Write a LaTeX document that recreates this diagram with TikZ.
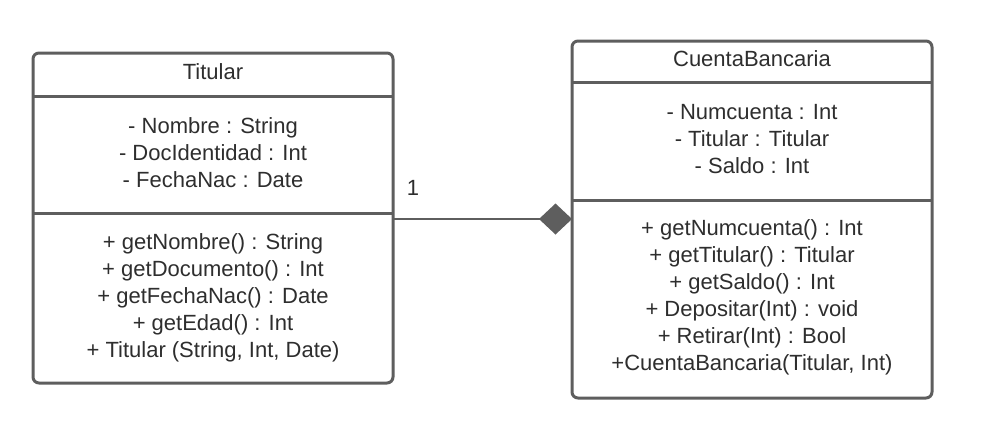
\documentclass[tikz,border=0pt]{standalone}
\usepackage{fontspec}
\setmainfont{Liberation Sans}
\usetikzlibrary{arrows.meta}
\definecolor{edge}{HTML}{5E5E5E}
\definecolor{ink}{HTML}{2E2E2E}
\begin{document}
\begin{tikzpicture}[x=0.75pt,y=-0.75pt,
  classbox/.style={draw=edge,line width=2.25pt,rounded corners=4.5pt,fill=white,inner sep=0pt,outer sep=0pt},
  divider/.style={draw=edge,line width=2.25pt},
  txt/.style={text=ink,align=center,font=\fontsize{16.5}{20.25}\selectfont,inner sep=0pt},
  assoc/.style={draw=edge,line width=1.5pt,-{Diamond[length=24.75pt,width=23.25pt,fill=edge]}}]
\useasboundingbox (0,0) rectangle (986,444);
% boxes
\node[classbox,minimum width=270pt,minimum height=247.5pt] (tit) at (213,218) {};
\node[classbox,minimum width=270pt,minimum height=267.75pt] (cb) at (752,219.5) {};
% compartments
\draw[divider] (tit.west |- 0,96) -- (tit.east |- 0,96);
\draw[divider] (tit.west |- 0,213) -- (tit.east |- 0,213);
\draw[divider] (cb.west |- 0,82) -- (cb.east |- 0,82);
\draw[divider] (cb.west |- 0,200) -- (cb.east |- 0,200);
% texts
\node[txt] (titname) at (213,72) {Titular};
\node[txt] (titattr) at (213,153) {- Nombre : String\\- DocIdentidad : Int\\- FechaNac : Date};
\node[txt] (titmeth) at (213,297.5) {+ getNombre() : String\\+ getDocumento() : Int\\+ getFechaNac() : Date\\+ getEdad() : Int\\+ Titular (String, Int, Date)};
\node[txt] (cbname) at (752,59) {CuentaBancaria};
\node[txt] (cbattr) at (752,139) {- Numcuenta : Int\\- Titular : Titular\\- Saldo : Int};
\node[txt] (cbmeth) at (752,297.5) {+ getNumcuenta() : Int\\+ getTitular() : Titular\\+ getSaldo() : Int\\+ Depositar(Int) : void\\+ Retirar(Int) : Bool\\+CuentaBancaria(Titular, Int)};
% association
\coordinate (lvl) at (0,219);
\draw[assoc] (tit.east |- lvl) -- (cb.west |- lvl);
\node[txt] (mult) at (413,188) {1};
\end{tikzpicture}
\end{document}
